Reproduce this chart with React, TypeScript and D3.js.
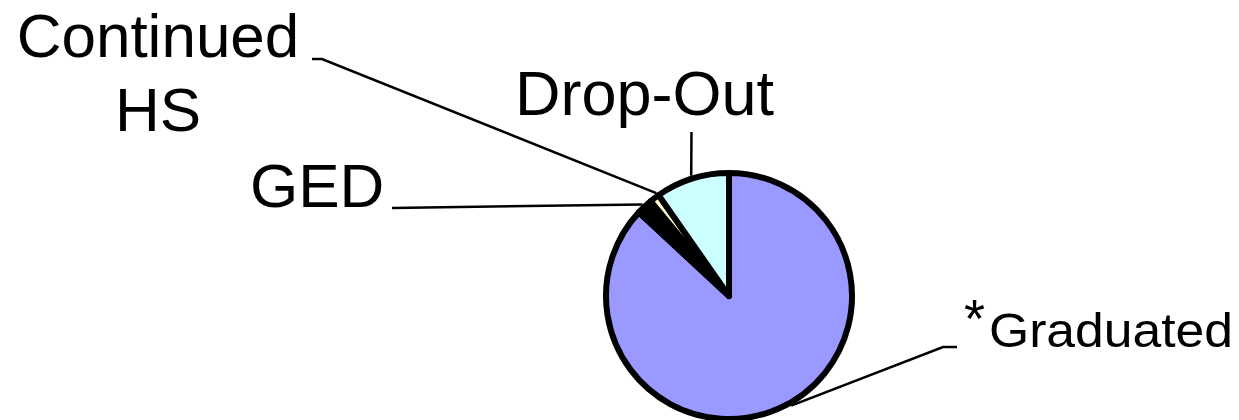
import React from "react";
import * as d3 from "d3";

const categories = ["Graduated", "GED", "Continued HS", "Drop-Out"];
const values = [86.9, 2.1, 1.3, 9.7];
const colors = ["#9999FF", "#000000", "#FFFFCC", "#CCFFFF"];

const W = 1239;
const H = 420;
const CX = 729;
const CY = 296;
const R = 123;

// label layout (positions only)
const labelLayout = [
  { lines: ["Graduated"], x: 989, y: 347, anchor: "start", size: 48, textLength: 244, elbow: [[957, 347], [943, 347]], angleOffset: -6, star: true },
  { lines: ["GED"], x: 250, y: 207, anchor: "start", size: 62, elbow: [[392, 208]], angleOffset: 0 },
  { lines: ["Continued", "HS"], x: 158, y: 57, anchor: "middle", size: 62, lineGap: 74, elbow: [[312, 59], [322, 59]], angleOffset: 2 },
  { lines: ["Drop-Out"], x: 515, y: 115, anchor: "start", size: 63, elbow: [[691.5, 132]], angleOffset: 0 },
];

export default function App() {
  const pie = d3.pie<number>().sort(null).value((d) => d);
  const arcs = pie(values);
  const arc = d3.arc<d3.PieArcDatum<number>>().innerRadius(0).outerRadius(R);

  return (
    <svg
      width={W}
      height={H}
      style={{ position: "absolute", left: 0, top: 0, background: "#fff" }}
      fontFamily="'Liberation Sans', Arial, sans-serif"
    >
      <g transform={`translate(${CX},${CY})`}>
        {arcs.map((a, i) => (
          <path
            key={categories[i]}
            d={arc(a) || ""}
            fill={colors[i]}
            stroke="#000"
            strokeWidth={6}
            strokeLinejoin="round"
          />
        ))}
      </g>
      {labelLayout.map((L, i) => {
        const a = arcs[i];
        const mid = (a.startAngle + a.endAngle) / 2 + (L.angleOffset * Math.PI) / 180;
        const ex = CX + (R + 3) * Math.sin(mid);
        const ey = CY - (R + 3) * Math.cos(mid);
        const pts = [...L.elbow, [ex, ey]];
        const line = d3.line()(pts as [number, number][]) || "";
        return (
          <g key={categories[i]}>
            <path d={line} fill="none" stroke="#000" strokeWidth={2.5} />
            {L.lines.map((t, j) => (
              <text
                key={j}
                x={L.x}
                y={L.y + j * (L.lineGap || 0)}
                fontSize={L.size}
                textAnchor={L.anchor as any}
                fill="#000"
                {...(L.textLength ? { textLength: L.textLength, lengthAdjust: "spacingAndGlyphs" } : {})}
              >
                {t}
              </text>
            ))}
            {L.star && (
              <text x={L.x - 25} y={L.y - 10} fontSize={54} fill="#000">
                *
              </text>
            )}
          </g>
        );
      })}
    </svg>
  );
}
